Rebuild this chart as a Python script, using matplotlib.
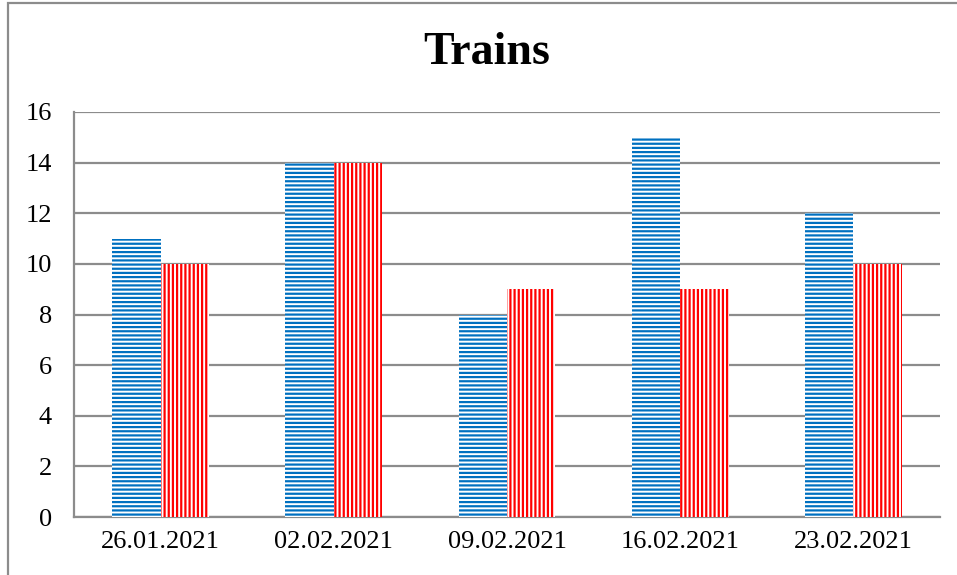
import matplotlib
matplotlib.use("Agg")
import matplotlib.pyplot as plt
from matplotlib.patches import Rectangle
import numpy as np

categories = ["26.01.2021", "02.02.2021", "09.02.2021", "16.02.2021", "23.02.2021"]
series_blue = [11, 14, 8, 15, 12]
series_red = [10, 14, 9, 9, 10]
yticks = [0, 2, 4, 6, 8, 10, 12, 14, 16]

plt.rcParams['font.family'] = ['Liberation Serif', 'DejaVu Serif']
plt.rcParams['hatch.linewidth'] = 1.6

W, H = 957, 575
fig = plt.figure(figsize=(W / 100, H / 100), dpi=100)
ax = fig.add_axes([74 / W, 1 - 517 / H, (940 - 74) / W, (517 - 112) / H])

x = np.arange(len(categories))
bw = 0.28
ax.bar(x - bw / 2, series_blue, width=bw, facecolor='white', edgecolor='#0070C0',
       hatch='----', linewidth=0, zorder=3)
ax.bar(x + bw / 2, series_red, width=bw, facecolor='white', edgecolor='#FF0000',
       hatch='||||', linewidth=0, zorder=3)

ax.set_xlim(-0.5, len(categories) - 0.5)
ax.set_ylim(0, 16)
ax.set_yticks(yticks)
ax.set_yticklabels([str(v) for v in yticks], fontsize=19)
ax.set_xticks(x)
ax.set_xticklabels(categories, fontsize=19)
ax.tick_params(axis='y', length=0, pad=16)
ax.tick_params(axis='x', length=0, pad=10)
ax.grid(axis='y', color='#8c8c8c', linewidth=1.6, zorder=0)
ax.set_axisbelow(True)
for s in ['top', 'right']:
    ax.spines[s].set_visible(False)
for s in ['left', 'bottom']:
    ax.spines[s].set_color('#8c8c8c')
    ax.spines[s].set_linewidth(1.6)

fig.text(487 / W, 1 - 53 / H, "Trains", ha='center', va='center',
         fontsize=33, fontweight='bold')

# outer chart border (left and top visible)
fig.patches.append(Rectangle((8 / W, -0.05), 1.2, 1 - 3 / H + 0.05,
                             transform=fig.transFigure, fill=False,
                             edgecolor='#8c8c8c', linewidth=1.6))

fig.savefig("out.png", dpi=100)
